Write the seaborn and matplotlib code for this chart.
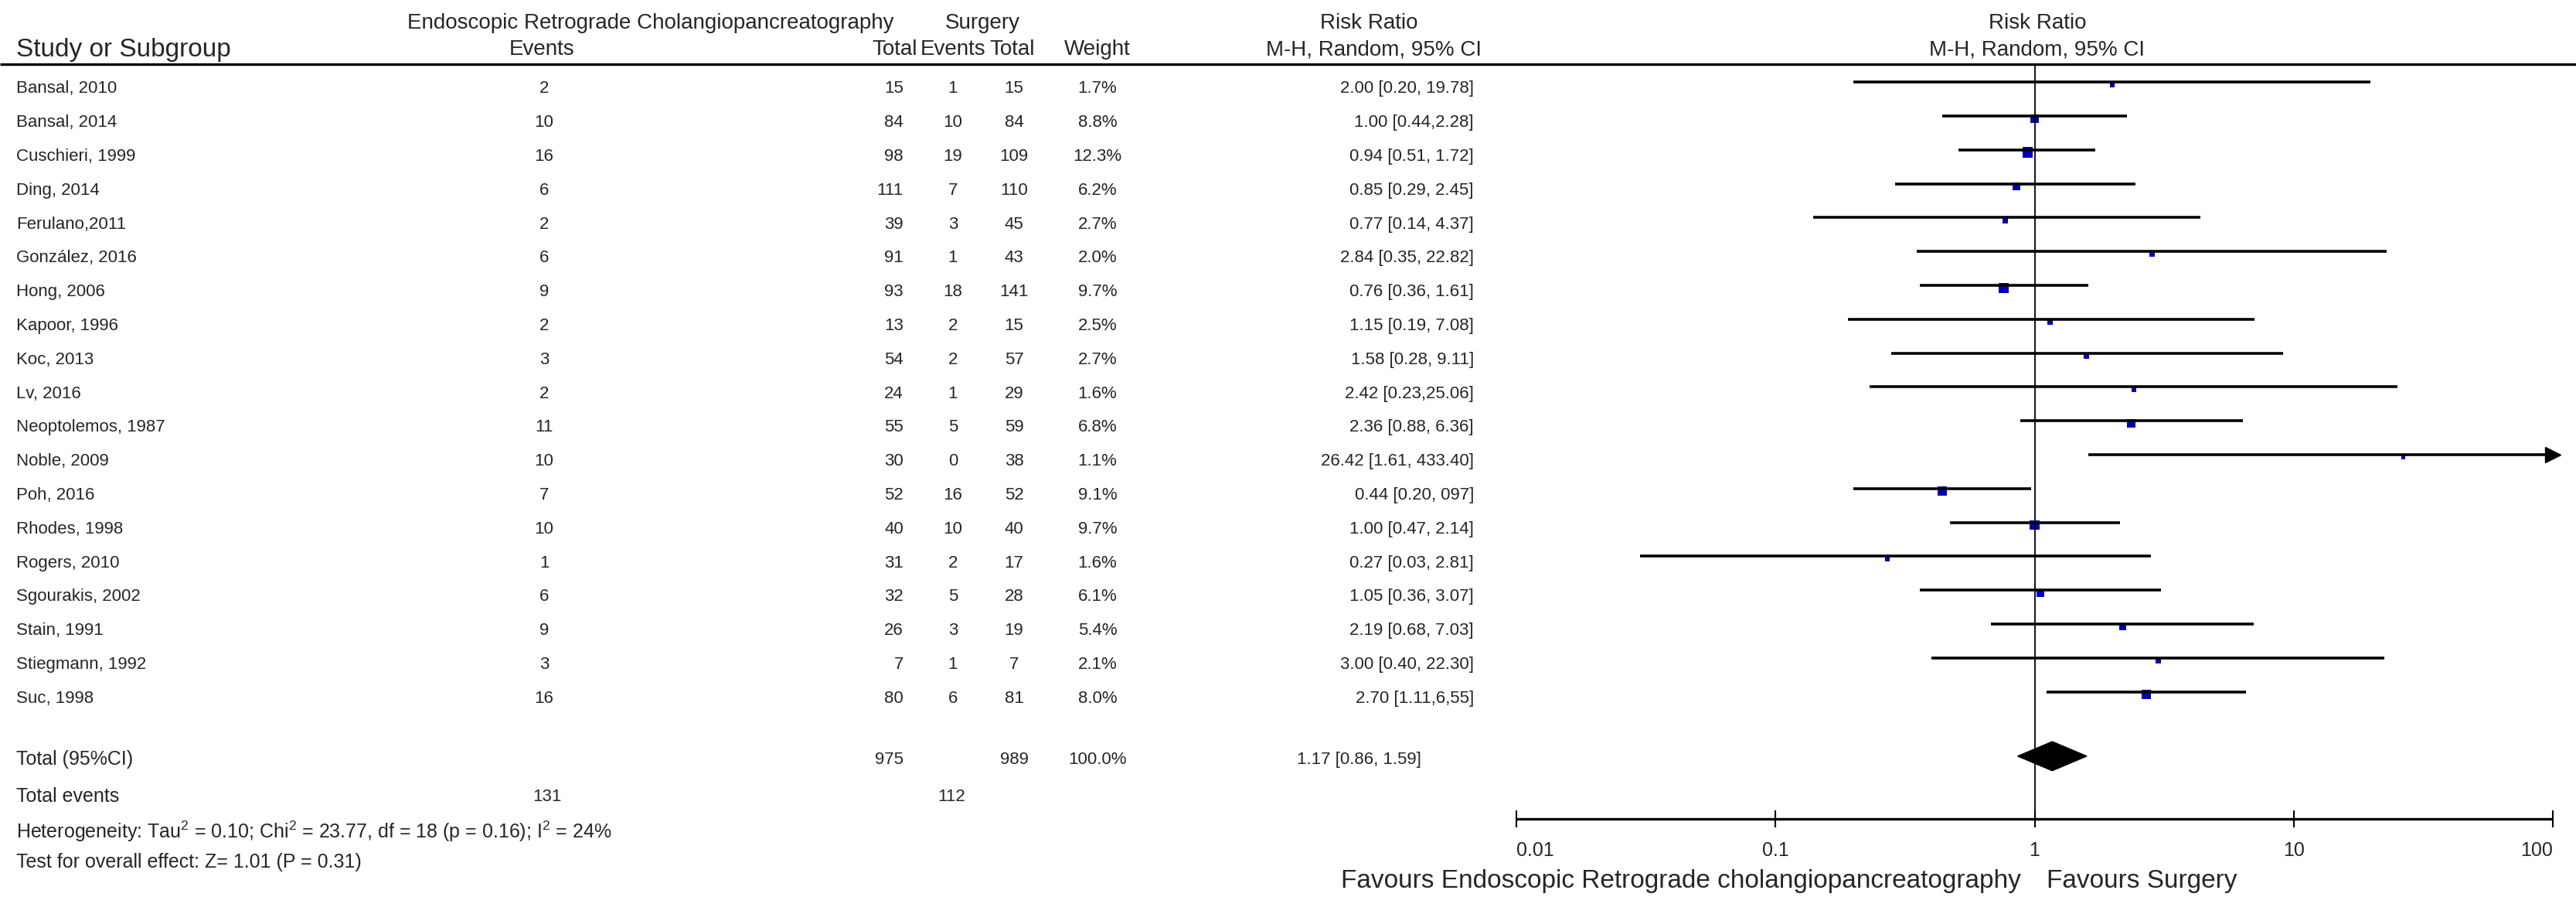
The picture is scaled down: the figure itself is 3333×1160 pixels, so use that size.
import numpy as np
import pandas as pd
import matplotlib
matplotlib.use("Agg")
import matplotlib.pyplot as plt
import seaborn as sns

sns.set_style("white")
plt.rcParams['font.family'] = ['Liberation Sans', 'DejaVu Sans']
plt.rcParams['mathtext.fontset'] = 'custom'
plt.rcParams['mathtext.rm'] = 'Liberation Sans'

studies = ["Bansal, 2010", "Bansal, 2014", "Cuschieri, 1999", "Ding, 2014", "Ferulano,2011",
           "González, 2016", "Hong, 2006", "Kapoor, 1996", "Koc, 2013", "Lv, 2016",
           "Neoptolemos, 1987", "Noble, 2009", "Poh, 2016", "Rhodes, 1998", "Rogers, 2010",
           "Sgourakis, 2002", "Stain, 1991", "Stiegmann, 1992", "Suc, 1998"]
ercp_events = [2, 10, 16, 6, 2, 6, 9, 2, 3, 2, 11, 10, 7, 10, 1, 6, 9, 3, 16]
ercp_total = [15, 84, 98, 111, 39, 91, 93, 13, 54, 24, 55, 30, 52, 40, 31, 32, 26, 7, 80]
surg_events = [1, 10, 19, 7, 3, 1, 18, 2, 2, 1, 5, 0, 16, 10, 2, 5, 3, 1, 6]
surg_total = [15, 84, 109, 110, 45, 43, 141, 15, 57, 29, 59, 38, 52, 40, 17, 28, 19, 7, 81]
weights = [1.7, 8.8, 12.3, 6.2, 2.7, 2.0, 9.7, 2.5, 2.7, 1.6, 6.8, 1.1, 9.1, 9.7, 1.6, 6.1, 5.4, 2.1, 8.0]
rr = [2.00, 1.00, 0.94, 0.85, 0.77, 2.84, 0.76, 1.15, 1.58, 2.42, 2.36, 26.42, 0.44, 1.00, 0.27,
      1.05, 2.19, 3.00, 2.70]
ci_low = [0.20, 0.44, 0.51, 0.29, 0.14, 0.35, 0.36, 0.19, 0.28, 0.23, 0.88, 1.61, 0.20, 0.47, 0.03,
          0.36, 0.68, 0.40, 1.11]
ci_high = [19.78, 2.28, 1.72, 2.45, 4.37, 22.82, 1.61, 7.08, 9.11, 25.06, 6.36, 433.40, 0.97, 2.14,
           2.81, 3.07, 7.03, 22.30, 6.55]
rr_labels = ["2.00 [0.20, 19.78]", "1.00 [0.44,2.28]", "0.94 [0.51, 1.72]", "0.85 [0.29, 2.45]",
             "0.77 [0.14, 4.37]", "2.84 [0.35, 22.82]", "0.76 [0.36, 1.61]", "1.15 [0.19, 7.08]",
             "1.58 [0.28, 9.11]", "2.42 [0.23,25.06]", "2.36 [0.88, 6.36]", "26.42 [1.61, 433.40]",
             "0.44 [0.20, 097]", "1.00 [0.47, 2.14]", "0.27 [0.03, 2.81]", "1.05 [0.36, 3.07]",
             "2.19 [0.68, 7.03]", "3.00 [0.40, 22.30]", "2.70 [1.11,6,55]"]

total_rr, total_low, total_high = 1.17, 0.86, 1.59
total_label = "1.17 [0.86, 1.59]"
total_n = [975, 989]
total_events = [131, 112]
axis_ticks = [0.01, 0.1, 1, 10, 100]
axis_labels = ["0.01", "0.1", "1", "10", "100"]

W, H = 3333, 1160
row0, step = 115, 43.8
ytop, ybot = -row0 / step, (H - row0) / step

fig = plt.figure(figsize=(W / 100, H / 100), dpi=100)

tab = fig.add_axes([0, 0, 1, 1])
tab.set_xlim(0, W)
tab.set_ylim(ybot, ytop)
tab.axis('off')

x_left, x_right = 1962, 3303
forest = fig.add_axes([x_left / W, 0, (x_right - x_left) / W, 1])
forest.set_xscale('log')
forest.set_xlim(0.01, 100)
forest.set_ylim(ybot, ytop)
forest.axis('off')

fs_head, fs_row, fs_foot, fs_fav = 20, 16, 18, 24
header_y1, header_y2, line_y = -1.94, -1.16, -0.72
y_total, y_events, y_het, y_test = 19.8, 20.9, 21.93, 22.83
axis_y = 21.55

# header
tab.text(842, header_y1, "Endoscopic Retrograde Cholangiopancreatography", ha='center', va='center', fontsize=fs_head)
tab.text(1271, header_y1, "Surgery", ha='center', va='center', fontsize=fs_head)
tab.text(1771, header_y1, "Risk Ratio", ha='center', va='center', fontsize=fs_head)
tab.text(2636, header_y1, "Risk Ratio", ha='center', va='center', fontsize=fs_head)
tab.text(21, header_y2, "Study or Subgroup", ha='left', va='center', fontsize=24)
for x, s in [(701, "Events"), (1158, "Total"), (1233, "Events"), (1310, "Total"), (1420, "Weight"),
             (1777, "M-H, Random, 95% CI"), (2636, "M-H, Random, 95% CI")]:
    tab.text(x, header_y2, s, ha='center', va='center', fontsize=fs_head)
tab.hlines(line_y, 0, W, color='black', lw=2.4)

# study rows
for i, name in enumerate(studies):
    tab.text(21, i, name, ha='left', va='center', fontsize=fs_row)
    tab.text(704, i, str(ercp_events[i]), ha='center', va='center', fontsize=fs_row)
    tab.text(1169, i, str(ercp_total[i]), ha='right', va='center', fontsize=fs_row)
    tab.text(1233, i, str(surg_events[i]), ha='center', va='center', fontsize=fs_row)
    tab.text(1312, i, str(surg_total[i]), ha='center', va='center', fontsize=fs_row)
    tab.text(1420, i, f"{weights[i]:.1f}%", ha='center', va='center', fontsize=fs_row)
    tab.text(1907, i, rr_labels[i], ha='right', va='center', fontsize=fs_row)

# totals
tab.text(21, y_total, "Total (95%CI)", ha='left', va='center', fontsize=fs_foot)
tab.text(1169, y_total, str(total_n[0]), ha='right', va='center', fontsize=fs_row)
tab.text(1312, y_total, str(total_n[1]), ha='center', va='center', fontsize=fs_row)
tab.text(1420, y_total, "100.0%", ha='center', va='center', fontsize=fs_row)
tab.text(1758, y_total, total_label, ha='center', va='center', fontsize=fs_row)
tab.text(21, y_events, "Total events", ha='left', va='center', fontsize=fs_foot)
tab.text(708, y_events, str(total_events[0]), ha='center', va='center', fontsize=fs_row)
tab.text(1231, y_events, str(total_events[1]), ha='center', va='center', fontsize=fs_row)
tab.text(21, y_het, r"Heterogeneity: Tau$^2$ = 0.10; Chi$^2$ = 23.77, df = 18 (p = 0.16); I$^2$ = 24%",
         ha='left', va='center', fontsize=fs_foot)
tab.text(21, y_test, "Test for overall effect: Z= 1.01 (P = 0.31)", ha='left', va='center', fontsize=fs_foot)

# forest plot
df = pd.DataFrame({"rr": rr, "lo": ci_low, "hi": np.minimum(ci_high, 100), "w": weights,
                   "row": np.arange(len(studies))})
forest.vlines(1, line_y, axis_y, color='black', lw=1.3)
forest.hlines(df["row"] - 0.2, df["lo"], df["hi"], color='black', lw=2.6)
over = df[np.array(ci_high) > 100]
forest.plot(over["hi"], over["row"] - 0.2, marker='>', color='black', ms=15, ls='none', clip_on=False)
sns.scatterplot(data=df.assign(yy=df["row"] - 0.12), x="rr", y="yy", size="w", sizes=(14, 100),
                size_norm=(1.1, 12.3), marker='s', color='#0000B4', linewidth=0, legend=False,
                ax=forest)
forest.fill([total_low, total_rr, total_high, total_rr],
            [y_total - 0.1, y_total - 0.53, y_total - 0.1, y_total + 0.33], color='black')

# axis
forest.hlines(axis_y, 0.01, 100, color='black', lw=2.4)
forest.vlines(axis_ticks, axis_y - 0.25, axis_y + 0.25, color='black', lw=1.5, clip_on=False)
aligns = ['left', 'center', 'center', 'center', 'right']
for t, lab, a in zip(axis_ticks, axis_labels, aligns):
    forest.text(t, 22.5, lab, ha=a, va='center', fontsize=18)
tab.text(2615, 23.4, "Favours Endoscopic Retrograde cholangiopancreatography", ha='right', va='center',
         fontsize=fs_fav)
tab.text(2648, 23.4, "Favours Surgery", ha='left', va='center', fontsize=fs_fav)

fig.savefig("out.png", dpi=100)
